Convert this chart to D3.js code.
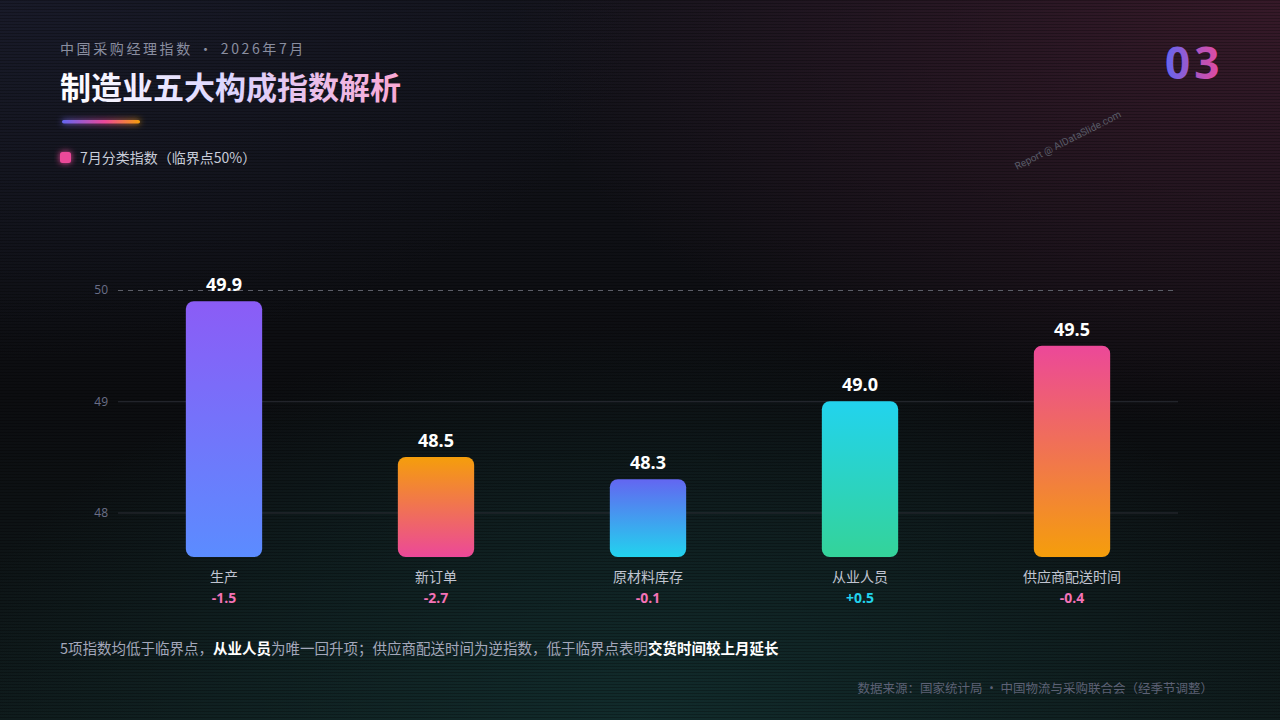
<!DOCTYPE html>
<html><head><meta charset="utf-8">
<script src="https://cdn.jsdelivr.net/npm/d3@7/dist/d3.min.js"></script>
<style>
html,body{margin:0;padding:0;background:#0c0d12;}
svg{display:block;font-family:"Noto Sans CJK SC","Noto Sans",sans-serif;}
</style></head><body>
<svg id="c" width="1280" height="720"></svg>
<script>
const categories = ["生产","新订单","原材料库存","从业人员","供应商配送时间"];
const values = [49.9, 48.5, 48.3, 49.0, 49.5];
const changes = ["-1.5","-2.7","-0.1","+0.5","-0.4"];
const yTicks = [48, 49, 50];
const gradTop = ["#8b5cf6","#f59e0b","#6366f1","#22d3ee","#ec4899"];
const gradBottom = ["#5b8cff","#ec4899","#22d3ee","#34d399","#f59e0b"];

const svg = d3.select("#c");
const defs = svg.append("defs");
const W = 1280, H = 720;

// background
const bg = defs.append("linearGradient").attr("id","bg").attr("x1",0).attr("y1",0).attr("x2",0).attr("y2",1);
bg.append("stop").attr("offset","0%").attr("stop-color","#13141c");
bg.append("stop").attr("offset","55%").attr("stop-color","#0c0d10");
bg.append("stop").attr("offset","100%").attr("stop-color","#0f1a1b");
svg.append("rect").attr("width",W).attr("height",H).attr("fill","url(#bg)");
const rg1 = defs.append("radialGradient").attr("id","rg1").attr("cx","100%").attr("cy","0%").attr("r","60%");
rg1.append("stop").attr("offset","0%").attr("stop-color","#3a1a2a").attr("stop-opacity",0.9);
rg1.append("stop").attr("offset","100%").attr("stop-color","#3a1a2a").attr("stop-opacity",0);
svg.append("rect").attr("width",W).attr("height",H).attr("fill","url(#rg1)");
const rg2 = defs.append("radialGradient").attr("id","rg2").attr("cx","50%").attr("cy","100%").attr("r","55%");
rg2.append("stop").attr("offset","0%").attr("stop-color","#123030").attr("stop-opacity",0.8);
rg2.append("stop").attr("offset","100%").attr("stop-color","#123030").attr("stop-opacity",0);
svg.append("rect").attr("width",W).attr("height",H).attr("fill","url(#rg2)");
const rg3 = defs.append("radialGradient").attr("id","rg3").attr("cx","0%").attr("cy","0%").attr("r","50%");
rg3.append("stop").attr("offset","0%").attr("stop-color","#1a1c2c").attr("stop-opacity",0.8);
rg3.append("stop").attr("offset","100%").attr("stop-color","#1a1c2c").attr("stop-opacity",0);
svg.append("rect").attr("width",W).attr("height",H).attr("fill","url(#rg3)");
// scanlines
const pat = defs.append("pattern").attr("id","scan").attr("width",4).attr("height",3).attr("patternUnits","userSpaceOnUse");
pat.append("rect").attr("width",4).attr("height",1).attr("fill","#000").attr("opacity",0.25);
svg.append("rect").attr("width",W).attr("height",H).attr("fill","url(#scan)");

// header
svg.append("text").attr("x",60).attr("y",54).attr("fill","#8a8ea0").attr("font-size",14)
  .attr("letter-spacing",2.6).text("中国采购经理指数 · 2026年7月");
const tg = defs.append("linearGradient").attr("id","tg").attr("x1",0).attr("x2",1);
tg.append("stop").attr("offset","0%").attr("stop-color","#ffffff");
tg.append("stop").attr("offset","50%").attr("stop-color","#dcd6ff");
tg.append("stop").attr("offset","100%").attr("stop-color","#f9a8d4");
svg.append("text").attr("x",60).attr("y",99).attr("fill","url(#tg)").attr("font-size",31)
  .attr("font-weight",700).text("制造业五大构成指数解析");
const ug = defs.append("linearGradient").attr("id","ug").attr("x1",0).attr("x2",1);
ug.append("stop").attr("offset","0%").attr("stop-color","#6366f1");
ug.append("stop").attr("offset","55%").attr("stop-color","#ec4899");
ug.append("stop").attr("offset","100%").attr("stop-color","#f59e0b");
const glow = defs.append("filter").attr("id","glow").attr("x","-50%").attr("y","-200%").attr("width","200%").attr("height","500%");
glow.append("feGaussianBlur").attr("stdDeviation",3).attr("result","b");
const fm = glow.append("feMerge"); fm.append("feMergeNode").attr("in","b"); fm.append("feMergeNode").attr("in","SourceGraphic");
svg.append("rect").attr("x",62).attr("y",120).attr("width",78).attr("height",3.5).attr("rx",1.75)
  .attr("fill","url(#ug)").attr("filter","url(#glow)");

const ng = defs.append("linearGradient").attr("id","ng").attr("x1",0).attr("x2",1);
ng.append("stop").attr("offset","0%").attr("stop-color","#6366f1");
ng.append("stop").attr("offset","100%").attr("stop-color","#ec4899");
svg.append("text").attr("x",1165).attr("y",79).attr("text-anchor","start").attr("fill","url(#ng)")
  .attr("font-size",44).attr("font-weight",700).attr("letter-spacing",4)
  .attr("font-family","'Open Sans',sans-serif").text("03");

svg.append("text").attr("transform","translate(1017,170) rotate(-27)").attr("fill","#5a5c68")
  .attr("font-size",10).attr("font-family","Roboto,sans-serif").text("Report @ AIDataSlide.com");

// legend
svg.append("rect").attr("x",60).attr("y",152).attr("width",11).attr("height",11).attr("rx",2.5).attr("fill","#ec4899").attr("filter","url(#glow)");
svg.append("text").attr("x",80).attr("y",162.5).attr("fill","#c8ccd8").attr("font-size",14).text("7月分类指数（临界点50%）");

// chart
const x = d3.scaleBand().domain(categories).range([118,1178]).paddingInner(0.64).paddingOuter(0.32);
const y = d3.scaleLinear().domain([47.6,50]).range([557,290]);

const gAxis = svg.append("g").attr("transform","translate(118,0)")
  .call(d3.axisLeft(y).tickValues(yTicks).tickSize(-1060).tickFormat(d3.format("d")));
gAxis.select(".domain").remove();
gAxis.selectAll(".tick line").attr("stroke","#2a2c34").attr("stroke-width",1)
  .filter(d=>d===50).attr("stroke","#5c5e68").attr("stroke-dasharray","5,5");
gAxis.selectAll(".tick text").attr("fill","#6b6f88").attr("font-size",12).attr("x",-10)
  .attr("font-family","'Open Sans','Noto Sans',sans-serif");

categories.forEach((c,i)=>{
  const g = defs.append("linearGradient").attr("id","bar"+i).attr("x1",0).attr("y1",0).attr("x2",0).attr("y2",1);
  g.append("stop").attr("offset","0%").attr("stop-color",gradTop[i]);
  g.append("stop").attr("offset","100%").attr("stop-color",gradBottom[i]);
});

const data = categories.map((c,i)=>({c, v:values[i], d:changes[i], i}));
svg.append("g").selectAll("rect").data(data).join("rect")
  .attr("x",d=>x(d.c)).attr("width",x.bandwidth())
  .attr("y",d=>y(d.v)).attr("height",d=>y.range()[0]-y(d.v))
  .attr("rx",8).attr("fill",d=>"url(#bar"+d.i+")");

svg.append("g").selectAll("text").data(data).join("text")
  .attr("x",d=>x(d.c)+x.bandwidth()/2).attr("y",d=>y(d.v)-10)
  .attr("text-anchor","middle").attr("fill","#ffffff").attr("font-size",18).attr("font-weight",700)
  .attr("font-family","'Open Sans','Noto Sans',sans-serif").text(d=>d.v.toFixed(1));

svg.append("g").selectAll("text").data(data).join("text")
  .attr("x",d=>x(d.c)+x.bandwidth()/2).attr("y",582)
  .attr("text-anchor","middle").attr("fill","#c0c4d0").attr("font-size",14).text(d=>d.c);

svg.append("g").selectAll("text").data(data).join("text")
  .attr("x",d=>x(d.c)+x.bandwidth()/2).attr("y",602.5)
  .attr("text-anchor","middle").attr("fill",d=>d.d.startsWith("+")?"#22d3ee":"#f472b6")
  .attr("font-size",14).attr("font-weight",700)
  .attr("font-family","'Open Sans','Noto Sans',sans-serif").text(d=>d.d);

// footnote
const fn = svg.append("text").attr("x",60).attr("y",654).attr("font-size",14.5).attr("fill","#a3a7ba");
fn.append("tspan").text("5项指数均低于临界点，");
fn.append("tspan").attr("fill","#ffffff").attr("font-weight",700).text("从业人员");
fn.append("tspan").text("为唯一回升项；供应商配送时间为逆指数，低于临界点表明");
fn.append("tspan").attr("fill","#ffffff").attr("font-weight",700).text("交货时间较上月延长");

svg.append("text").attr("x",1213).attr("y",693).attr("text-anchor","end").attr("fill","#5d6175")
  .attr("font-size",12.5).text("数据来源：国家统计局 · 中国物流与采购联合会（经季节调整）");
</script>
</body></html>
